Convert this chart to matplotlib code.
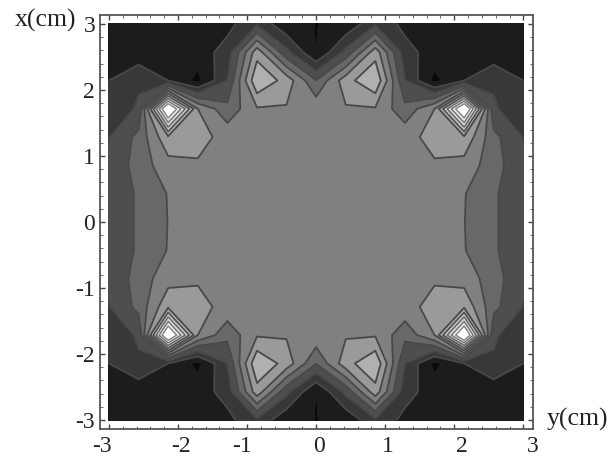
import numpy as np
import matplotlib
matplotlib.use("Agg")
import matplotlib.pyplot as plt
from matplotlib.ticker import MultipleLocator
from matplotlib.transforms import ScaledTranslation

# grid of the contour plot
y_grid = [-3, -2.571, -2.143, -1.714, -1.286, -0.857, -0.429, 0,
          0.429, 0.857, 1.286, 1.714, 2.143, 2.571, 3]
x_grid = [3, 2.571, 2.143, 1.714, 1.286, 0.857, 0.429, 0,
          -0.429, -0.857, -1.286, -1.714, -2.143, -2.571, -3]

# values, one row per x_grid entry
row_p30 = [0.3, 0.3, 0.3, 0.3, 0.7, 1.8, 0.2, -0.015, 0.2, 1.8, 0.7, 0.3, 0.3, 0.3, 0.3]
row_p26 = [0.5, 0.3, 0.6, 0.5, 1.4, 5.6, 2.3, -0.015, 2.3, 5.6, 1.4, 0.5, 0.6, 0.3, 0.5]
row_p21 = [1.0, 1.9, 1.0, -0.3, 2.0, 6.9, 5.6, 3.05, 5.6, 6.9, 2.0, -0.3, 1.0, 1.9, 1.0]
row_p17 = [1.5, 2.1, 12.0, 5.0, 3.3, 4.9, 4.9, 4.7, 4.9, 4.9, 3.3, 5.0, 12.0, 2.1, 1.5]
row_p13 = [1.96, 3.3, 5.8, 5.3, 4.7, 4.6, 4.6, 4.6, 4.6, 4.6, 4.7, 5.3, 5.8, 3.3, 1.96]
row_p09 = [2.15, 3.45, 4.6, 4.9, 4.6, 4.6, 4.6, 4.6, 4.6, 4.6, 4.6, 4.9, 4.6, 3.45, 2.15]
row_p04 = [2.1, 3.17, 4.05, 4.6, 4.6, 4.6, 4.6, 4.6, 4.6, 4.6, 4.6, 4.6, 4.05, 3.17, 2.1]
row_000 = [2.1, 3.17, 4.02, 4.6, 4.6, 4.6, 4.6, 4.6, 4.6, 4.6, 4.6, 4.6, 4.02, 3.17, 2.1]
row_m04 = [2.1, 3.17, 4.05, 4.6, 4.6, 4.6, 4.6, 4.6, 4.6, 4.6, 4.6, 4.6, 4.05, 3.17, 2.1]
row_m09 = [2.15, 3.45, 4.6, 4.9, 4.6, 4.6, 4.6, 4.6, 4.6, 4.6, 4.6, 4.9, 4.6, 3.45, 2.15]
row_m13 = [1.96, 3.3, 5.8, 5.3, 4.7, 4.6, 4.6, 4.6, 4.6, 4.6, 4.7, 5.3, 5.8, 3.3, 1.96]
row_m17 = [1.5, 2.1, 12.0, 5.0, 3.3, 4.9, 4.9, 4.7, 4.9, 4.9, 3.3, 5.0, 12.0, 2.1, 1.5]
row_m21 = [1.0, 1.9, 1.0, -0.3, 2.0, 6.9, 5.6, 3.05, 5.6, 6.9, 2.0, -0.3, 1.0, 1.9, 1.0]
row_m26 = [0.5, 0.3, 0.6, 0.5, 1.4, 5.6, 2.3, -0.015, 2.3, 5.6, 1.4, 0.5, 0.6, 0.3, 0.5]
row_m30 = [0.3, 0.3, 0.3, 0.3, 0.7, 1.8, 0.2, -0.015, 0.2, 1.8, 0.7, 0.3, 0.3, 0.3, 0.3]

levels = [-1, 0, 1, 2, 3, 4, 5, 6, 7, 8, 9, 10, 13]
band_colors = ["#0a0a0a", "#1c1c1c", "#383838", "#4e4e4e", "#686868", "#808080",
               "#9a9a9a", "#b0b0b0", "#c4c4c4", "#d8d8d8", "#ececec", "#ffffff"]
line_colors = ["#484848", "#484848", "#484848", "#484848", "#484848", "#484848",
               "#505050", "#606060", "#707070", "#808080"]
line_widths = [1.3, 1.3, 1.3, 1.3, 1.3, 1.3, 1.2, 1.0, 1.0, 1.0]
tick_labels = ["-3", "-2", "-1", "0", "1", "2", "3"]

plt.rcParams["font.family"] = ["Liberation Serif", "DejaVu Serif"]

field = np.array([row_p30, row_p26, row_p21, row_p17, row_p13, row_p09, row_p04, row_000,
                  row_m04, row_m09, row_m13, row_m17, row_m21, row_m26, row_m30])

W, H = 616, 457
fig = plt.figure(figsize=(W / 100, H / 100), dpi=100)
ax = fig.add_axes([100 / W, 1 - 429 / H, 433 / W, 414 / H])

ax.contourf(y_grid, x_grid, field, levels=levels, colors=band_colors)
ax.contour(y_grid, x_grid, field, levels=levels[2:-1], colors=line_colors, linewidths=line_widths)

ax.set_xlim(-3.13, 3.14)
ax.set_ylim(-3.136, 3.136)

ticks = [-3, -2, -1, 0, 1, 2, 3]
ax.set_xticks(ticks)
ax.set_xticklabels(tick_labels)
ax.set_yticks(ticks)
ax.set_yticklabels(tick_labels)
ax.xaxis.set_minor_locator(MultipleLocator(0.2))
ax.yaxis.set_minor_locator(MultipleLocator(0.2))
ax.tick_params(which="major", direction="in", top=True, right=True, length=3.5, width=1,
               color="#444444", labelsize=17, labelcolor="#222222", pad=2)
ax.tick_params(axis="x", which="major", pad=5)
ax.tick_params(which="minor", direction="in", top=True, right=True, length=2, width=0.7,
               color="#666666")
for s in ax.spines.values():
    s.set_color("#555555")
    s.set_linewidth(1.3)

# the labels under the x axis sit a bit off their ticks in the original
x_shift = [-7, 3, -5, 3, 3, 8, 9]
for lbl, dx in zip(ax.get_xticklabels(), x_shift):
    lbl.set_transform(lbl.get_transform() + ScaledTranslation(dx / 100, 0, fig.dpi_scale_trans))
for lbl in ax.get_yticklabels():
    lbl.set_transform(lbl.get_transform() + ScaledTranslation(-2 / 100, 0, fig.dpi_scale_trans))

fig.text(15 / W, 1 - 27 / H, "x(cm)", fontsize=18.5, color="#222222")
fig.text(547 / W, 1 - 426 / H, "y(cm)", fontsize=18.5, color="#222222")

fig.savefig("out.png", dpi=100)
